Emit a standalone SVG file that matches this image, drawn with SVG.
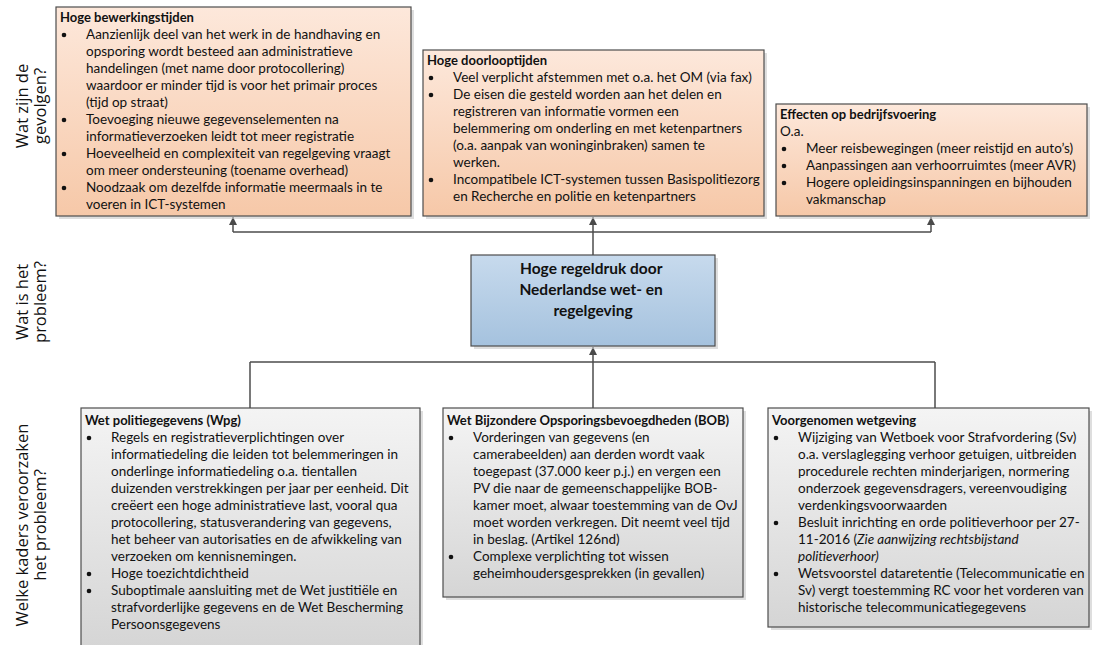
<svg xmlns="http://www.w3.org/2000/svg" width="1101" height="645" viewBox="0 0 1101 645">
<defs>
<linearGradient id="gPeach" x1="0" y1="0" x2="0" y2="1"><stop offset="0" stop-color="#fde8db"/><stop offset="1" stop-color="#f6c8a8"/></linearGradient>
<linearGradient id="gGray" x1="0" y1="0" x2="0" y2="1"><stop offset="0" stop-color="#f4f4f4"/><stop offset="1" stop-color="#d5d5d5"/></linearGradient>
<linearGradient id="gBlue" x1="0" y1="0" x2="0" y2="1"><stop offset="0" stop-color="#c7daed"/><stop offset="1" stop-color="#a5c2de"/></linearGradient>
<marker id="arr" viewBox="0 0 10 10" refX="10" refY="5" markerWidth="8" markerHeight="8" markerUnits="userSpaceOnUse" orient="auto"><path d="M0,0 L10,5 L0,10 z" fill="#4a4a4a"/></marker>
<style>
.box{stroke:#4d4d4d;stroke-width:1.2}
.shadow{fill:#c8c8c8;opacity:0.6}
.t{font-family:Lato,"Liberation Sans",sans-serif;font-size:13.5px;fill:#111}
.b{font-weight:bold;font-size:13px}
.ctr{font-family:Lato,"Liberation Sans",sans-serif;font-size:15.5px;font-weight:bold;fill:#111;text-anchor:middle}
.axis{font-family:"Open Sans","Liberation Sans",sans-serif;font-size:16.5px;fill:#111;text-anchor:middle}
.dot{fill:#111}
.conn{fill:none;stroke:#4d4d4d;stroke-width:1.5}
</style>
</defs>
<rect width="1101" height="645" fill="#ffffff"/>

<g id="axis-labels">
<text class="axis" transform="translate(28,106) rotate(-90)">Wat zijn de</text>
<text class="axis" transform="translate(46,106) rotate(-90)">gevolgen?</text>
<text class="axis" transform="translate(28,302) rotate(-90)">Wat is het</text>
<text class="axis" transform="translate(46,302) rotate(-90)">probleem?</text>
<text class="axis" transform="translate(28,525) rotate(-90)">Welke kaders veroorzaken</text>
<text class="axis" transform="translate(46,525) rotate(-90)">het probleem?</text>
</g>

<g id="connectors">
<path class="conn" d="M593,255 V217" marker-end="url(#arr)"/>
<path class="conn" d="M233,232 H931"/>
<path class="conn" d="M233,232 V217" marker-end="url(#arr)"/>
<path class="conn" d="M931,232 V217" marker-end="url(#arr)"/>
<path class="conn" d="M593,408 V347" marker-end="url(#arr)"/>
<path class="conn" d="M250,362 H935"/>
<path class="conn" d="M250,362 V408"/>
<path class="conn" d="M935,362 V408"/>
</g>

<g id="node-bewerkingstijden">
<rect class="shadow" x="59" y="10" width="355" height="209"/>
<rect class="box" x="56" y="7" width="355" height="209" fill="url(#gPeach)"/>
<circle class="dot" cx="64" cy="35" r="2.3"/><circle class="dot" cx="64" cy="120" r="2.3"/><circle class="dot" cx="64" cy="154" r="2.3"/><circle class="dot" cx="64" cy="188" r="2.3"/>
<text class="t"><tspan class="b" x="60" y="22">Hoge bewerkingstijden</tspan>
<tspan x="86" y="39">Aanzienlijk deel van het werk in de handhaving en</tspan>
<tspan x="86" y="56">opsporing wordt besteed aan administratieve</tspan>
<tspan x="86" y="73">handelingen (met name door protocollering)</tspan>
<tspan x="86" y="90">waardoor er minder tijd is voor het primair proces</tspan>
<tspan x="86" y="107">(tijd op straat)</tspan>
<tspan x="86" y="124">Toevoeging nieuwe gegevenselementen na</tspan>
<tspan x="86" y="141">informatieverzoeken leidt tot meer registratie</tspan>
<tspan x="86" y="158">Hoeveelheid en complexiteit van regelgeving vraagt</tspan>
<tspan x="86" y="175">om meer ondersteuning (toename overhead)</tspan>
<tspan x="86" y="192">Noodzaak om dezelfde informatie meermaals in te</tspan>
<tspan x="86" y="209">voeren in ICT-systemen</tspan></text>
</g>

<g id="node-doorlooptijden">
<rect class="shadow" x="426" y="53" width="341" height="166"/>
<rect class="box" x="423" y="50" width="341" height="166" fill="url(#gPeach)"/>
<circle class="dot" cx="431" cy="78" r="2.3"/><circle class="dot" cx="431" cy="95" r="2.3"/><circle class="dot" cx="431" cy="180" r="2.3"/>
<text class="t"><tspan class="b" x="427" y="65">Hoge doorlooptijden</tspan>
<tspan x="453" y="82">Veel verplicht afstemmen met o.a. het OM (via fax)</tspan>
<tspan x="453" y="99">De eisen die gesteld worden aan het delen en</tspan>
<tspan x="453" y="116">registreren van informatie vormen een</tspan>
<tspan x="453" y="133">belemmering om onderling en met ketenpartners</tspan>
<tspan x="453" y="150">(o.a. aanpak van woninginbraken) samen te</tspan>
<tspan x="453" y="167">werken.</tspan>
<tspan x="453" y="184">Incompatibele ICT-systemen tussen Basispolitiezorg</tspan>
<tspan x="453" y="201">en Recherche en politie en ketenpartners</tspan></text>
</g>

<g id="node-bedrijfsvoering">
<rect class="shadow" x="779" y="107" width="311" height="112"/>
<rect class="box" x="776" y="104" width="311" height="112" fill="url(#gPeach)"/>
<circle class="dot" cx="784" cy="149" r="2.3"/><circle class="dot" cx="784" cy="166" r="2.3"/><circle class="dot" cx="784" cy="183" r="2.3"/>
<text class="t"><tspan class="b" x="780" y="119">Effecten op bedrijfsvoering</tspan>
<tspan x="780" y="136">O.a.</tspan>
<tspan x="806" y="153">Meer reisbewegingen (meer reistijd en auto’s)</tspan>
<tspan x="806" y="170">Aanpassingen aan verhoorruimtes (meer AVR)</tspan>
<tspan x="806" y="187">Hogere opleidingsinspanningen en bijhouden</tspan>
<tspan x="806" y="204">vakmanschap</tspan></text>
</g>

<g id="node-regeldruk">
<rect class="shadow" x="474" y="258" width="244" height="91"/>
<rect class="box" x="471" y="255" width="244" height="91" fill="url(#gBlue)"/>
<text class="ctr"><tspan x="593" y="274">Hoge regeldruk door</tspan>
<tspan x="593" y="295">Nederlandse wet- en</tspan>
<tspan x="593" y="316">regelgeving</tspan></text>
</g>

<g id="node-wpg">
<rect class="shadow" x="84" y="411" width="339" height="240"/>
<rect class="box" x="81" y="408" width="339" height="240" fill="url(#gGray)"/>
<circle class="dot" cx="89" cy="438" r="2.3"/><circle class="dot" cx="89" cy="574" r="2.3"/><circle class="dot" cx="89" cy="591" r="2.3"/>
<text class="t"><tspan class="b" x="85" y="425">Wet politiegegevens (Wpg)</tspan>
<tspan x="111" y="442">Regels en registratieverplichtingen over</tspan>
<tspan x="111" y="459">informatiedeling die leiden tot belemmeringen in</tspan>
<tspan x="111" y="476">onderlinge informatiedeling o.a. tientallen</tspan>
<tspan x="111" y="493">duizenden verstrekkingen per jaar per eenheid. Dit</tspan>
<tspan x="111" y="510">creëert een hoge administratieve last, vooral qua</tspan>
<tspan x="111" y="527">protocollering, statusverandering van gegevens,</tspan>
<tspan x="111" y="544">het beheer van autorisaties en de afwikkeling van</tspan>
<tspan x="111" y="561">verzoeken om kennisnemingen.</tspan>
<tspan x="111" y="578">Hoge toezichtdichtheid</tspan>
<tspan x="111" y="595">Suboptimale aansluiting met de Wet justitiële en</tspan>
<tspan x="111" y="612">strafvorderlijke gegevens en de Wet Bescherming</tspan>
<tspan x="111" y="629">Persoonsgegevens</tspan></text>
</g>

<g id="node-bob">
<rect class="shadow" x="446" y="411" width="300" height="189"/>
<rect class="box" x="443" y="408" width="300" height="189" fill="url(#gGray)"/>
<circle class="dot" cx="451" cy="438" r="2.3"/><circle class="dot" cx="451" cy="557" r="2.3"/>
<text class="t"><tspan class="b" x="447" y="425">Wet Bijzondere Opsporingsbevoegdheden (BOB)</tspan>
<tspan x="473" y="442">Vorderingen van gegevens (en</tspan>
<tspan x="473" y="459">camerabeelden) aan derden wordt vaak</tspan>
<tspan x="473" y="476">toegepast (37.000 keer p.j.) en vergen een</tspan>
<tspan x="473" y="493">PV die naar de gemeenschappelijke BOB-</tspan>
<tspan x="473" y="510">kamer moet, alwaar toestemming van de OvJ</tspan>
<tspan x="473" y="527">moet worden verkregen. Dit neemt veel tijd</tspan>
<tspan x="473" y="544">in beslag. (Artikel 126nd)</tspan>
<tspan x="473" y="561">Complexe verplichting tot wissen</tspan>
<tspan x="473" y="578">geheimhoudersgesprekken (in gevallen)</tspan></text>
</g>

<g id="node-voorgenomen">
<rect class="shadow" x="771" y="411" width="321" height="219"/>
<rect class="box" x="768" y="408" width="321" height="219" fill="url(#gGray)"/>
<circle class="dot" cx="776" cy="438" r="2.3"/><circle class="dot" cx="776" cy="523" r="2.3"/><circle class="dot" cx="776" cy="574" r="2.3"/>
<text class="t"><tspan class="b" x="772" y="425">Voorgenomen wetgeving</tspan>
<tspan x="798" y="442">Wijziging van Wetboek voor Strafvordering (Sv)</tspan>
<tspan x="798" y="459">o.a. verslaglegging verhoor getuigen, uitbreiden</tspan>
<tspan x="798" y="476">procedurele rechten minderjarigen, normering</tspan>
<tspan x="798" y="493">onderzoek gegevensdragers, vereenvoudiging</tspan>
<tspan x="798" y="510">verdenkingsvoorwaarden</tspan>
<tspan x="798" y="527">Besluit inrichting en orde politieverhoor per 27-</tspan>
<tspan x="798" y="544">11-2016 (<tspan font-style="italic">Zie aanwijzing rechtsbijstand</tspan></tspan>
<tspan x="798" y="561" font-style="italic">politieverhoor)</tspan>
<tspan x="798" y="578">Wetsvoorstel dataretentie (Telecommunicatie en</tspan>
<tspan x="798" y="595">Sv) vergt toestemming RC voor het vorderen van</tspan>
<tspan x="798" y="612">historische telecommunicatiegegevens</tspan></text>
</g>
</svg>
